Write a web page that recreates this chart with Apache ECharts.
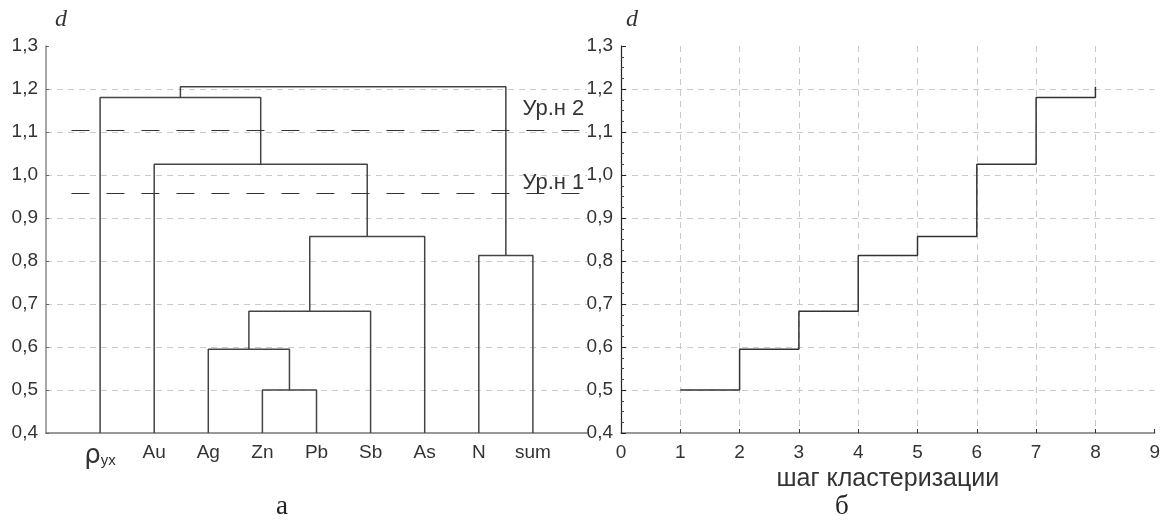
<!doctype html>
<html>
<head>
<meta charset="utf-8">
<title></title>
<script src="https://cdn.jsdelivr.net/npm/echarts@6/dist/echarts.min.js"></script>
<style>
html, body { margin: 0; padding: 0; background: #fff; }
#main { width: 1163px; height: 526px; }
</style>
</head>
<body>
<div id="main"></div>
<script type="text/javascript">
// листья дендрограммы (по порядку на оси)
var leaves = ['ρyx', 'Au', 'Ag', 'Zn', 'Pb', 'Sb', 'As', 'N', 'sum'];
// объединения: номера узлов (0..8 - листья, 9.. - кластеры) и расстояние d
var mergeLeft = [3, 2, 10, 7, 11, 1, 0, 15];
var mergeRight = [4, 9, 5, 8, 6, 13, 14, 12];
var mergeDist = [0.500, 0.595, 0.683, 0.813, 0.857, 1.025, 1.180, 1.205];
// шаг кластеризации (правый график)
var steps = [1, 2, 3, 4, 5, 6, 7, 8];
var stepDist = [0.500, 0.595, 0.683, 0.813, 0.857, 1.025, 1.180, 1.205];
// пороговые уровни
var levelNames = ['Ур.н 2', 'Ур.н 1'];
var levelValues = [1.105, 0.957];
var levelFrom = 0.47, levelTo = 9.95;

var yMin = 0.4, yMax = 1.3;

function fmt(v) {
	return v.toFixed(1).replace('.', ',');
}

// положение и высота каждого узла
var nodeX = [], nodeY = [];
for (var i = 0; i < leaves.length; i++) {
	nodeX.push(i + 1);
	nodeY.push(yMin);
}
var dendro = [];
for (var k = 0; k < mergeDist.length; k++) {
	var a = mergeLeft[k], b = mergeRight[k], h = mergeDist[k];
	dendro.push([[nodeX[a], nodeY[a]], [nodeX[a], h], [nodeX[b], h], [nodeX[b], nodeY[b]]]);
	nodeX.push((nodeX[a] + nodeX[b]) / 2);
	nodeY.push(h);
}

var stepData = steps.map(function(s, i) { return [s, stepDist[i]]; });

var gridLine = { show: true, lineStyle: { color: '#c9c9ce', type: [6, 5], width: 1 } };
var labelFont = { fontFamily: 'Liberation Sans', fontSize: 18, color: '#333' };

var series = dendro.map(function(d, idx) {
	return {
		type: 'line', xAxisIndex: 0, yAxisIndex: 0,
		data: d, symbol: 'none', silent: true,
		lineStyle: { color: '#444', width: 1.5 }
	};
});

series[0].markLine = {
	silent: true, symbol: 'none',
	lineStyle: { color: '#333', type: [18, 17], width: 1 },
	label: {
		show: true, position: 'insideEndTop', formatter: '{b}',
		fontFamily: 'Liberation Sans', fontSize: 22, color: '#333'
	},
	data: levelValues.map(function(v, i) {
		return [
			{ coord: [levelFrom, v], name: levelNames[i], label: { distance: i === 0 ? [0, 10] : [0, 0] } },
			{ coord: [levelTo, v] }
		];
	})
};

series.push({
	type: 'line', xAxisIndex: 1, yAxisIndex: 1,
	data: stepData, step: 'end', symbol: 'none', silent: true,
	lineStyle: { color: '#333', width: 1.5 }
});

var myChart = echarts.init(document.getElementById('main'), null, { renderer: 'canvas' });

var option = {
	animation: false,
	backgroundColor: '#fff',
	grid: [
		{ left: 46, right: 576, top: 46, bottom: 93 },
		{ left: 621, right: 7, top: 46, bottom: 93 }
	],
	xAxis: [{
		gridIndex: 0, type: 'value', min: 0, max: leaves.length + 1, interval: 1,
		axisLine: { lineStyle: { color: '#777', width: 1.5 } },
		axisTick: { show: false },
		splitLine: { show: false },
		axisLabel: {
			margin: 10,
			fontFamily: 'Liberation Sans', fontSize: 19, color: '#333',
			formatter: function(v) {
				var name = leaves[v - 1];
				if (!name) return '';
				if (name === 'ρyx') return '{rho|ρ}{sub|yx}';
				return name;
			},
			rich: {
				rho: { fontFamily: 'DejaVu Sans', fontSize: 26, color: '#333' },
				sub: { fontFamily: 'Liberation Sans', fontSize: 15, color: '#333', padding: [10, 0, 0, 0] }
			}
		}
	}, {
		gridIndex: 1, type: 'value', min: 0, max: 9, interval: 1,
		name: 'шаг кластеризации', nameLocation: 'middle', nameGap: 32,
		nameTextStyle: { fontFamily: 'Liberation Sans', fontSize: 25, color: '#333' },
		axisLine: { lineStyle: { color: '#777', width: 1.5 } },
		axisTick: { inside: true, length: 4, lineStyle: { color: '#333' } },
		splitLine: Object.assign({ showMaxLine: false, showMinLine: false }, gridLine),
		axisLabel: Object.assign({ margin: 10 }, labelFont, { fontSize: 19 })
	}],
	yAxis: [{
		gridIndex: 0, type: 'value', min: yMin, max: yMax, interval: 0.1,
		axisLine: { show: true, lineStyle: { color: '#888', width: 1.5 } },
		axisTick: { show: true, inside: true, length: 3, lineStyle: { color: '#666' } },
		splitLine: Object.assign({ showMaxLine: false, showMinLine: false }, gridLine),
		axisLabel: Object.assign({ margin: 8, formatter: fmt }, labelFont, { fontSize: 19 })
	}, {
		gridIndex: 1, type: 'value', min: yMin, max: yMax, interval: 0.1,
		axisLine: { show: true, lineStyle: { color: '#222', width: 1.2 } },
		axisTick: { show: true, inside: true, length: 5, lineStyle: { color: '#222' } },
		minorTick: { show: true, splitNumber: 4, length: 3, lineStyle: { color: '#444' } },
		splitLine: Object.assign({ showMaxLine: false, showMinLine: false }, gridLine),
		axisLabel: Object.assign({ margin: 8, formatter: fmt }, labelFont, { fontSize: 19 })
	}],
	graphic: [
		{ type: 'text', left: 55, top: 8, style: { text: 'd', font: 'italic 24px "Liberation Serif"', fill: '#333' } },
		{ type: 'text', left: 626, top: 8, style: { text: 'd', font: 'italic 24px "Liberation Serif"', fill: '#333' } },
		{ type: 'text', left: 276, top: 493, style: { text: 'а', font: '27px "Liberation Serif"', fill: '#222' } },
		{ type: 'text', left: 835, top: 493, style: { text: 'б', font: '27px "Liberation Serif"', fill: '#222' } }
	],
	series: series
};

myChart.setOption(option);
</script>
</body>
</html>
